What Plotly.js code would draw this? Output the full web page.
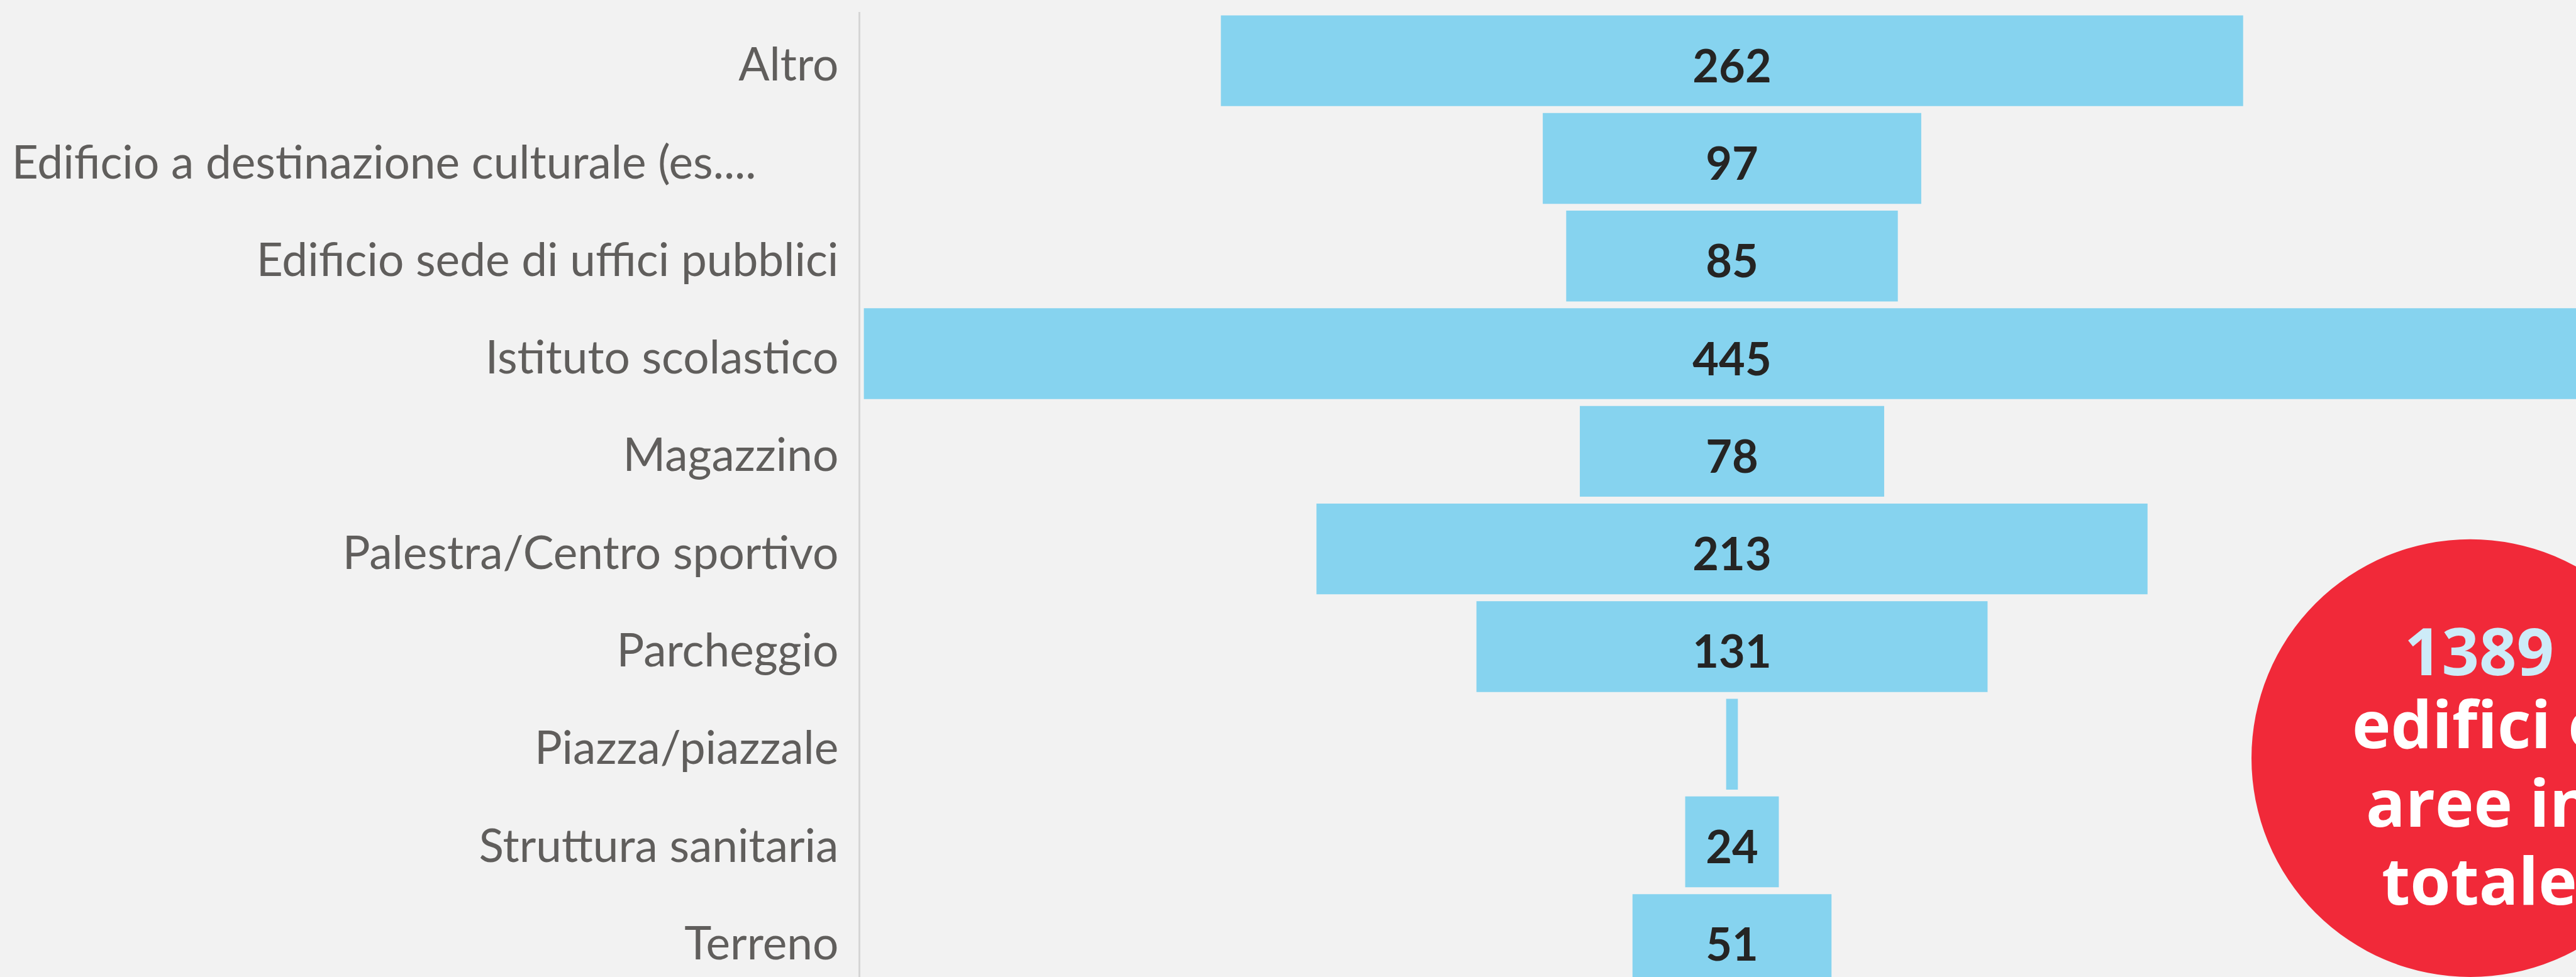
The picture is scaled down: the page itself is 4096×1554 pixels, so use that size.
<!DOCTYPE html>
<html>
<head>
<meta charset="utf-8">
<script src="https://cdn.plot.ly/plotly-3.0.1.min.js"></script>
<style>
  html, body { margin: 0; padding: 0; background: #f2f2f2; overflow: hidden; }
  #chart { width: 4096px; height: 1554px; }
</style>
</head>
<body>
<div id="chart"></div>
<script>
// ---- data ----
const categories = [
  "Altro",
  "Edificio a destinazione culturale (es....",
  "Edificio sede di uffici pubblici",
  "Istituto scolastico",
  "Magazzino",
  "Palestra/Centro sportivo",
  "Parcheggio",
  "Piazza/piazzale",
  "Struttura sanitaria",
  "Terreno"
];
const counts = [262, 97, 85, 445, 78, 213, 131, 3, 24, 51];
const totalValue = "1389";
const totalLines = ["edifici e", "aree in", "totale"];

// ---- layout geometry (output pixels) ----
const W = 4096, H = 1554;
const plotLeft = 1368, plotTop = 19.3;
const plotW = W - plotLeft, plotH = H - plotTop;
const px = x => (x - plotLeft) / plotW;
const py = y => 1 - (y - plotTop) / plotH;
const pxPerUnit = 6.204;
const rowPx = 155.3;
const labelDrop = 16;           // value labels sit slightly below bar centre
const dShift = labelDrop / rowPx;

const circ = {cx: 3928, cy: 1206, r: 348};
const textX = 3942;

const funnel = {
  type: "funnel",
  y: categories,
  x: counts,
  textinfo: "none",
  marker: {color: "#86d3ef", line: {width: 0}},
  connector: {visible: false},
  hoverinfo: "none"
};

// value labels (hidden when the bar is too narrow to hold them)
const valueText = counts.map(v => (v * pxPerUnit > 60 ? String(v) : ""));
const labels = {
  type: "scatter",
  mode: "text",
  x: counts.map(() => 0),
  y: categories,
  yaxis: "y2",
  text: valueText,
  textposition: "middle center",
  textfont: {family: "Segoe UI, Lato, sans-serif", size: 72, color: "#252423", weight: 700},
  hoverinfo: "none",
  cliponaxis: false
};

// truncated label keeps a little room at its right end, as in the source
const tickText = categories.map(c => c.endsWith("....") ? c + "\u00a0".repeat(7) : c);

const annotations = [];
const lineYs = [1034, 1150, 1275, 1399];
const allLines = [totalValue].concat(totalLines);
allLines.forEach((t, i) => {
  annotations.push({
    xref: "paper", yref: "paper",
    x: px(textX), y: py(lineYs[i]),
    xanchor: "center", yanchor: "middle",
    text: t, showarrow: false,
    font: {family: "Open Sans, sans-serif", size: 104, weight: 700,
           color: i === 0 ? "#cdebf8" : "#ffffff"}
  });
});

const yRange = [9.384, -0.5];
const layout = {
  width: W, height: H,
  margin: {l: plotLeft, r: 0, t: plotTop, b: 0, pad: 0},
  paper_bgcolor: "#f2f2f2",
  plot_bgcolor: "#f2f2f2",
  showlegend: false,
  funnelgap: 0.07,
  xaxis: {
    visible: false,
    range: [-1386 / pxPerUnit, 1342 / pxPerUnit],
    fixedrange: true
  },
  yaxis: {
    type: "category",
    categoryorder: "array", categoryarray: categories,
    tickmode: "array", tickvals: categories, ticktext: tickText,
    range: yRange,
    autorange: false,
    showline: true, linecolor: "#d6d6d6", linewidth: 3,
    showgrid: false, zeroline: false,
    ticks: "",
    ticklabelstandoff: 17,
    ticklabelshift: -6,
    tickfont: {family: "Segoe UI, Lato, sans-serif", size: 73, color: "#605e5c", weight: 400},
    fixedrange: true
  },
  yaxis2: {
    type: "category",
    categoryorder: "array", categoryarray: categories,
    overlaying: "y",
    range: [yRange[0] - dShift, yRange[1] - dShift],
    autorange: false,
    visible: false,
    fixedrange: true
  },
  shapes: [{
    type: "circle", xref: "paper", yref: "paper",
    x0: px(circ.cx - circ.r), x1: px(circ.cx + circ.r),
    y0: py(circ.cy + circ.r), y1: py(circ.cy - circ.r),
    fillcolor: "#f12939", line: {width: 0}, layer: "above"
  }],
  annotations: annotations
};

Plotly.newPlot("chart", [funnel, labels], layout, {staticPlot: true, displayModeBar: false});
</script>
</body>
</html>
